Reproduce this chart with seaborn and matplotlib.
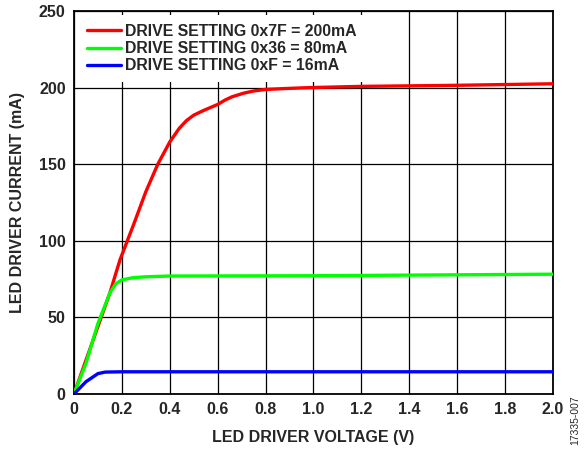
import pandas as pd
import matplotlib
matplotlib.use("Agg")
import matplotlib.pyplot as plt
import seaborn as sns

# data
v_200 = [0, 0.05, 0.1, 0.15, 0.192, 0.25, 0.3, 0.35, 0.4, 0.44, 0.47, 0.5, 0.54, 0.57, 0.6, 0.63, 0.66, 0.707, 0.75, 0.8, 0.9, 0.985, 1.2, 1.6, 2.0]
i_200 = [0, 22, 44, 66, 87.5, 111, 132, 150, 164.5, 173.5, 178.5, 182, 185, 187, 189, 191.8, 194, 196.3, 197.8, 198.8, 199.5, 200, 200.8, 201.5, 202.5]

v_80 = [0, 0.05, 0.1, 0.15, 0.175, 0.2, 0.25, 0.3, 0.4, 1.0, 1.2, 1.6, 2.0]
i_80 = [0, 20, 46, 66, 72, 74.5, 76, 76.5, 77, 77.2, 77.4, 77.8, 78.2]

v_16 = [0, 0.05, 0.1, 0.13, 0.2, 1.0, 2.0]
i_16 = [0, 8, 13.3, 14.3, 14.5, 14.5, 14.5]

labels = ["DRIVE SETTING 0x7F = 200mA", "DRIVE SETTING 0x36 = 80mA", "DRIVE SETTING 0xF = 16mA"]
colors = ["#ff0000", "#00ff00", "#0000ff"]

df = pd.concat([
    pd.DataFrame({"v": v_200, "i": i_200, "s": labels[0]}),
    pd.DataFrame({"v": v_80, "i": i_80, "s": labels[1]}),
    pd.DataFrame({"v": v_16, "i": i_16, "s": labels[2]}),
])

sns.set_style("white")
plt.rcParams["font.family"] = ["Liberation Sans", "DejaVu Sans"]
plt.rcParams["font.weight"] = "bold"

fig = plt.figure(figsize=(5.87, 4.49), dpi=100)
ax = fig.add_axes([0.126, 0.1225, 0.816, 0.853])

sns.lineplot(data=df, x="v", y="i", hue="s", palette=colors, linewidth=2.4,
             sort=False, estimator=None, ax=ax, zorder=3)

ax.set_xlim(0, 2.0)
ax.set_ylim(0, 250)
ax.set_xticks([0, 0.2, 0.4, 0.6, 0.8, 1.0, 1.2, 1.4, 1.6, 1.8, 2.0])
ax.set_xticklabels(["0", "0.2", "0.4", "0.6", "0.8", "1.0", "1.2", "1.4", "1.6", "1.8", "2.0"])
ax.set_yticks([0, 50, 100, 150, 200, 250])
ax.tick_params(length=0, labelsize=11.5, pad=6)
for t in ax.get_xticklabels() + ax.get_yticklabels():
    t.set_fontweight("bold")
ax.grid(True, color="black", linewidth=0.9)
for s in ax.spines.values():
    s.set_color("black")
    s.set_linewidth(1.3)

ax.set_xlabel("LED DRIVER VOLTAGE (V)", fontsize=11.5, fontweight="bold", labelpad=9)
ax.set_ylabel("LED DRIVER CURRENT (mA)", fontsize=11.5, fontweight="bold", labelpad=10)

leg = ax.legend(loc="upper left", frameon=True, fontsize=11.4, handlelength=2.15,
                handletextpad=0.3, labelspacing=0.15, borderaxespad=0.25,
                borderpad=0.55, fancybox=False)
leg.get_frame().set_facecolor("white")
leg.get_frame().set_edgecolor("none")
leg.get_frame().set_alpha(1)
leg.set_zorder(5)
for t in leg.get_texts():
    t.set_fontweight("bold")

fig.text(0.98, 0.065, "17335-007", rotation=90, fontsize=7.5, fontweight="normal",
         ha="center", va="center")

fig.savefig("out.png", dpi=100)
